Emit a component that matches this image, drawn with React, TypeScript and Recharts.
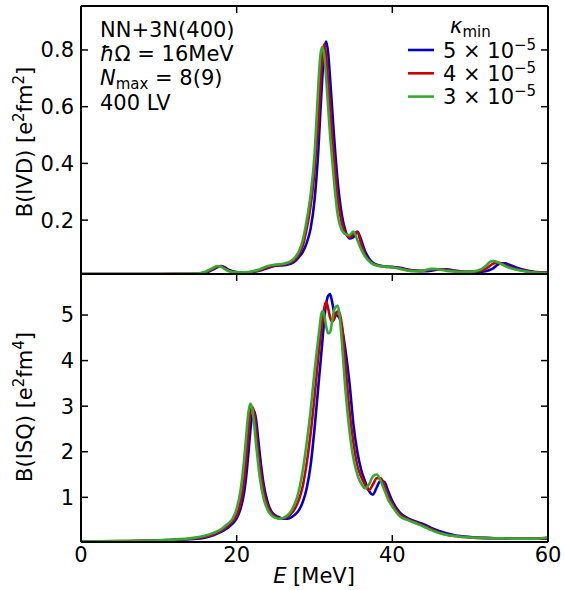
import { Line, LineChart, XAxis, YAxis } from "recharts";

// energy grid (MeV) for the dipole panel
const energyIvd = [
  0, 5, 10, 14, 15, 16, 17, 17.5, 18, 18.5, 19, 20, 21, 22, 23, 24, 25, 26, 26.5, 27,
  27.5, 28, 28.5, 29, 29.5, 30, 30.25, 30.5, 30.75, 31, 31.25, 31.5, 31.75, 32, 32.25,
  32.5, 33, 33.5, 34, 34.5, 35, 35.5, 36, 36.5, 37, 37.5, 38, 39, 40, 41, 42, 43, 44, 45,
  45.5, 46, 47, 48, 49, 50, 51, 52, 52.5, 53, 53.5, 54, 54.5, 55, 56, 57, 58, 59, 60
];

// B(IVD) for kappa_min = 5e-5, 4e-5, 3e-5
const ivdBlue = [
  0.01, 0.01, 0.01, 0.01, 0.011, 0.015, 0.026, 0.034, 0.038, 0.033, 0.024, 0.017, 0.015,
  0.017, 0.022, 0.031, 0.039, 0.041, 0.043, 0.047, 0.055, 0.07, 0.088, 0.12, 0.17, 0.27,
  0.35, 0.45, 0.58, 0.7, 0.8, 0.83, 0.79, 0.7, 0.6, 0.5, 0.33, 0.22, 0.16, 0.135, 0.14,
  0.16, 0.13, 0.09, 0.065, 0.05, 0.043, 0.037, 0.035, 0.032, 0.026, 0.022, 0.02, 0.022,
  0.024, 0.026, 0.027, 0.022, 0.019, 0.018, 0.018, 0.02, 0.024, 0.031, 0.042, 0.048,
  0.048, 0.043, 0.032, 0.024, 0.019, 0.016, 0.014
];
const ivdRed = [
  0.01, 0.01, 0.01, 0.011, 0.011, 0.016, 0.029, 0.036, 0.037, 0.03, 0.022, 0.016, 0.015,
  0.018, 0.024, 0.034, 0.041, 0.044, 0.047, 0.052, 0.062, 0.08, 0.11, 0.17, 0.25, 0.37,
  0.46, 0.55, 0.68, 0.78, 0.82, 0.78, 0.69, 0.6, 0.5, 0.42, 0.27, 0.19, 0.152, 0.14, 0.152,
  0.158, 0.115, 0.078, 0.058, 0.047, 0.041, 0.036, 0.034, 0.03, 0.024, 0.021, 0.022, 0.026,
  0.027, 0.027, 0.024, 0.02, 0.018, 0.018, 0.02, 0.028, 0.038, 0.047, 0.05, 0.047, 0.041,
  0.035, 0.027, 0.021, 0.017, 0.015, 0.013
];
const ivdGreen = [
  0.01, 0.01, 0.01, 0.011, 0.012, 0.018, 0.032, 0.038, 0.035, 0.027, 0.02, 0.016, 0.016,
  0.019, 0.027, 0.038, 0.043, 0.046, 0.05, 0.056, 0.068, 0.09, 0.13, 0.2, 0.29, 0.43,
  0.55, 0.68, 0.78, 0.81, 0.78, 0.7, 0.6, 0.5, 0.42, 0.34, 0.215, 0.165, 0.15, 0.147, 0.16,
  0.13, 0.097, 0.072, 0.056, 0.045, 0.04, 0.036, 0.034, 0.028, 0.022, 0.02, 0.022, 0.028,
  0.028, 0.026, 0.021, 0.019, 0.018, 0.018, 0.022, 0.038, 0.052, 0.056, 0.052, 0.045,
  0.038, 0.032, 0.025, 0.02, 0.016, 0.014, 0.012
];

// energy grid (MeV) for the quadrupole panel
const energyIsq = [
  0, 5, 10, 14, 16, 17, 18, 18.5, 19, 19.5, 20, 20.5, 21, 21.25, 21.5, 21.75, 22, 22.25,
  22.5, 22.75, 23, 23.5, 24, 24.5, 25, 25.5, 26, 26.5, 27, 27.5, 28, 28.5, 29, 29.5, 30,
  30.5, 31, 31.25, 31.5, 31.75, 32, 32.25, 32.5, 32.75, 33, 33.25, 33.5, 34, 34.5, 35,
  35.5, 36, 36.5, 37, 37.5, 38, 38.5, 39, 39.5, 40, 41, 42, 43, 44, 45, 46, 48, 50, 52,
  54, 56, 58, 60
];

const isqBlue = [
  0.03, 0.035, 0.05, 0.08, 0.12, 0.17, 0.24, 0.29, 0.35, 0.43, 0.54, 0.75, 1.15, 1.5, 1.95,
  2.45, 2.8, 2.9, 2.7, 2.3, 1.9, 1.25, 0.88, 0.68, 0.6, 0.56, 0.53, 0.53, 0.56, 0.62, 0.72,
  0.9, 1.2, 1.7, 2.5, 3.45, 4.4, 4.9, 5.25, 5.42, 5.46, 5.3, 5.08, 5.0, 4.98, 4.92, 4.75,
  4.2, 3.5, 2.6, 2.0, 1.6, 1.35, 1.14, 1.06, 1.22, 1.37, 1.33, 1.12, 0.92, 0.66, 0.54,
  0.47, 0.41, 0.33, 0.26, 0.17, 0.13, 0.11, 0.1, 0.09, 0.09, 0.1
];
const isqRed = [
  0.03, 0.04, 0.055, 0.09, 0.14, 0.19, 0.27, 0.33, 0.4, 0.48, 0.62, 0.9, 1.45, 1.9, 2.4,
  2.85, 2.98, 2.85, 2.45, 2.0, 1.65, 1.1, 0.8, 0.64, 0.57, 0.54, 0.54, 0.57, 0.64, 0.76,
  0.95, 1.25, 1.75, 2.4, 3.2, 4.1, 4.85, 5.15, 5.29, 5.15, 4.95, 4.86, 4.9, 5.02, 5.08,
  5.02, 4.8, 3.85, 2.9, 2.2, 1.7, 1.45, 1.27, 1.16, 1.28, 1.42, 1.42, 1.25, 1.02, 0.85,
  0.62, 0.52, 0.45, 0.38, 0.3, 0.23, 0.15, 0.12, 0.105, 0.1, 0.09, 0.09, 0.11
];
const isqGreen = [
  0.03, 0.04, 0.06, 0.1, 0.16, 0.22, 0.3, 0.37, 0.44, 0.54, 0.75, 1.15, 1.9, 2.4, 2.85,
  3.05, 2.95, 2.6, 2.15, 1.75, 1.4, 0.95, 0.72, 0.6, 0.55, 0.53, 0.55, 0.6, 0.7, 0.87,
  1.15, 1.6, 2.2, 2.9, 3.75, 4.5, 5.08, 5.0, 4.75, 4.6, 4.62, 4.85, 5.1, 5.18, 5.2, 4.95,
  4.45, 3.3, 2.45, 1.85, 1.5, 1.3, 1.2, 1.28, 1.46, 1.5, 1.36, 1.15, 0.94, 0.8, 0.58, 0.5,
  0.43, 0.36, 0.28, 0.22, 0.15, 0.12, 0.105, 0.1, 0.09, 0.09, 0.12
];

const xTicks = [0, 20, 40, 60];
const ivdTicks = [0.2, 0.4, 0.6, 0.8];
const isqTicks = [1, 2, 3, 4, 5];
const legendLabels = ["5", "4", "3"];

const colors = ["#0000cc", "#cc0000", "#33aa33"];
const font = "DejaVu Sans";

const ivdData = energyIvd.map((e, i) => ({
  e,
  k5: ivdBlue[i],
  k4: ivdRed[i],
  k3: ivdGreen[i]
}));
const isqData = energyIsq.map((e, i) => ({
  e,
  k5: isqBlue[i],
  k4: isqRed[i],
  k3: isqGreen[i]
}));

const axisLine = { stroke: "#000", strokeWidth: 2 };
const tickLine = { stroke: "#000", strokeWidth: 1.5 };
const blank = () => "";

function Panel({
  data,
  domain,
  yTicks,
  height,
  showX
}: {
  data: { e: number; k5: number; k4: number; k3: number }[];
  domain: [number, number];
  yTicks: number[];
  height: number;
  showX: boolean;
}) {
  return (
    <LineChart
      width={564}
      height={height}
      data={data}
      margin={{ top: 0, right: 0, bottom: showX ? 0 : 6, left: 0 }}
    >
      <XAxis
        xAxisId="b"
        dataKey="e"
        type="number"
        domain={[0, 60]}
        ticks={xTicks}
        interval={0}
        allowDataOverflow
        height={showX ? 48 : 0}
        tickSize={-7}
        tickMargin={12}
        tickFormatter={showX ? undefined : blank}
        tick={{ fontSize: 21, fill: "#000", fontFamily: font }}
        axisLine={axisLine}
        tickLine={tickLine}
      />
      <XAxis
        xAxisId="t"
        orientation="top"
        dataKey="e"
        type="number"
        domain={[0, 60]}
        ticks={xTicks}
        interval={0}
        allowDataOverflow
        height={6}
        tickSize={-7}
        tickFormatter={blank}
        axisLine={axisLine}
        tickLine={tickLine}
      />
      <YAxis
        yAxisId="l"
        type="number"
        domain={domain}
        ticks={yTicks}
        interval={0}
        allowDataOverflow
        width={81}
        tickSize={-7}
        tickMargin={14}
        tick={{ fontSize: 21, fill: "#000", fontFamily: font }}
        axisLine={axisLine}
        tickLine={tickLine}
      />
      <YAxis
        yAxisId="r"
        orientation="right"
        type="number"
        domain={domain}
        ticks={yTicks}
        interval={0}
        allowDataOverflow
        width={16}
        tickSize={-7}
        tickFormatter={blank}
        axisLine={axisLine}
        tickLine={tickLine}
      />
      {["k5", "k4", "k3"].map((key, i) => (
        <Line
          key={key}
          xAxisId="b"
          yAxisId="l"
          dataKey={key}
          type="monotone"
          stroke={colors[i]}
          strokeWidth={2.6}
          dot={false}
          isAnimationActive={false}
        />
      ))}
    </LineChart>
  );
}

export default function App() {
  return (
    <div style={{ position: "absolute", left: 0, top: 0, width: 564, height: 590, background: "#fff" }}>
      <div style={{ position: "absolute", left: 0, top: 0 }}>
        <Panel data={ivdData} domain={[0.01, 0.955]} yTicks={ivdTicks} height={280} showX={false} />
      </div>
      <div style={{ position: "absolute", left: 0, top: 268 }}>
        <Panel data={isqData} domain={[0.02, 5.9]} yTicks={isqTicks} height={322} showX />
      </div>
      <svg
        width={564}
        height={590}
        style={{ position: "absolute", left: 0, top: 0, pointerEvents: "none" }}
        fontFamily={font}
        fontSize={21}
        fill="#000"
      >
        <text transform="translate(32,142) rotate(-90)" textAnchor="middle">
          <tspan>B(IVD) [e</tspan>
          <tspan dy={-8} fontSize={15}>2</tspan>
          <tspan dy={8}>fm</tspan>
          <tspan dy={-8} fontSize={15}>2</tspan>
          <tspan dy={8}>]</tspan>
        </text>
        <text transform="translate(32,407) rotate(-90)" textAnchor="middle">
          <tspan>B(ISQ) [e</tspan>
          <tspan dy={-8} fontSize={15}>2</tspan>
          <tspan dy={8}>fm</tspan>
          <tspan dy={-8} fontSize={15}>4</tspan>
          <tspan dy={8}>]</tspan>
        </text>
        <text x={314} y={583} textAnchor="middle">
          <tspan fontStyle="italic">E</tspan>
          <tspan> [MeV]</tspan>
        </text>

        <text x={100} y={37}>NN+3N(400)</text>
        <text x={100} y={61}>
          <tspan fontStyle="italic">ħ</tspan>
          <tspan>Ω = 16MeV</tspan>
        </text>
        <text x={100} y={85}>
          <tspan fontStyle="italic">N</tspan>
          <tspan dy={4} fontSize={15}>max</tspan>
          <tspan dy={-4}> = 8(9)</tspan>
        </text>
        <text x={100} y={110}>400 LV</text>

        <text x={450} y={33}>
          <tspan fontStyle="italic">κ</tspan>
          <tspan dy={4} fontSize={15}>min</tspan>
        </text>
        {legendLabels.map((lab, i) => (
          <g key={lab}>
            <line x1={408} x2={434} y1={50 + i * 23.3} y2={50 + i * 23.3} stroke={colors[i]} strokeWidth={2.6} />
            <text x={443} y={57.5 + i * 23.3}>
              <tspan>{lab} × 10</tspan>
              <tspan dy={-8} fontSize={15}>−5</tspan>
            </text>
          </g>
        ))}
      </svg>
    </div>
  );
}
